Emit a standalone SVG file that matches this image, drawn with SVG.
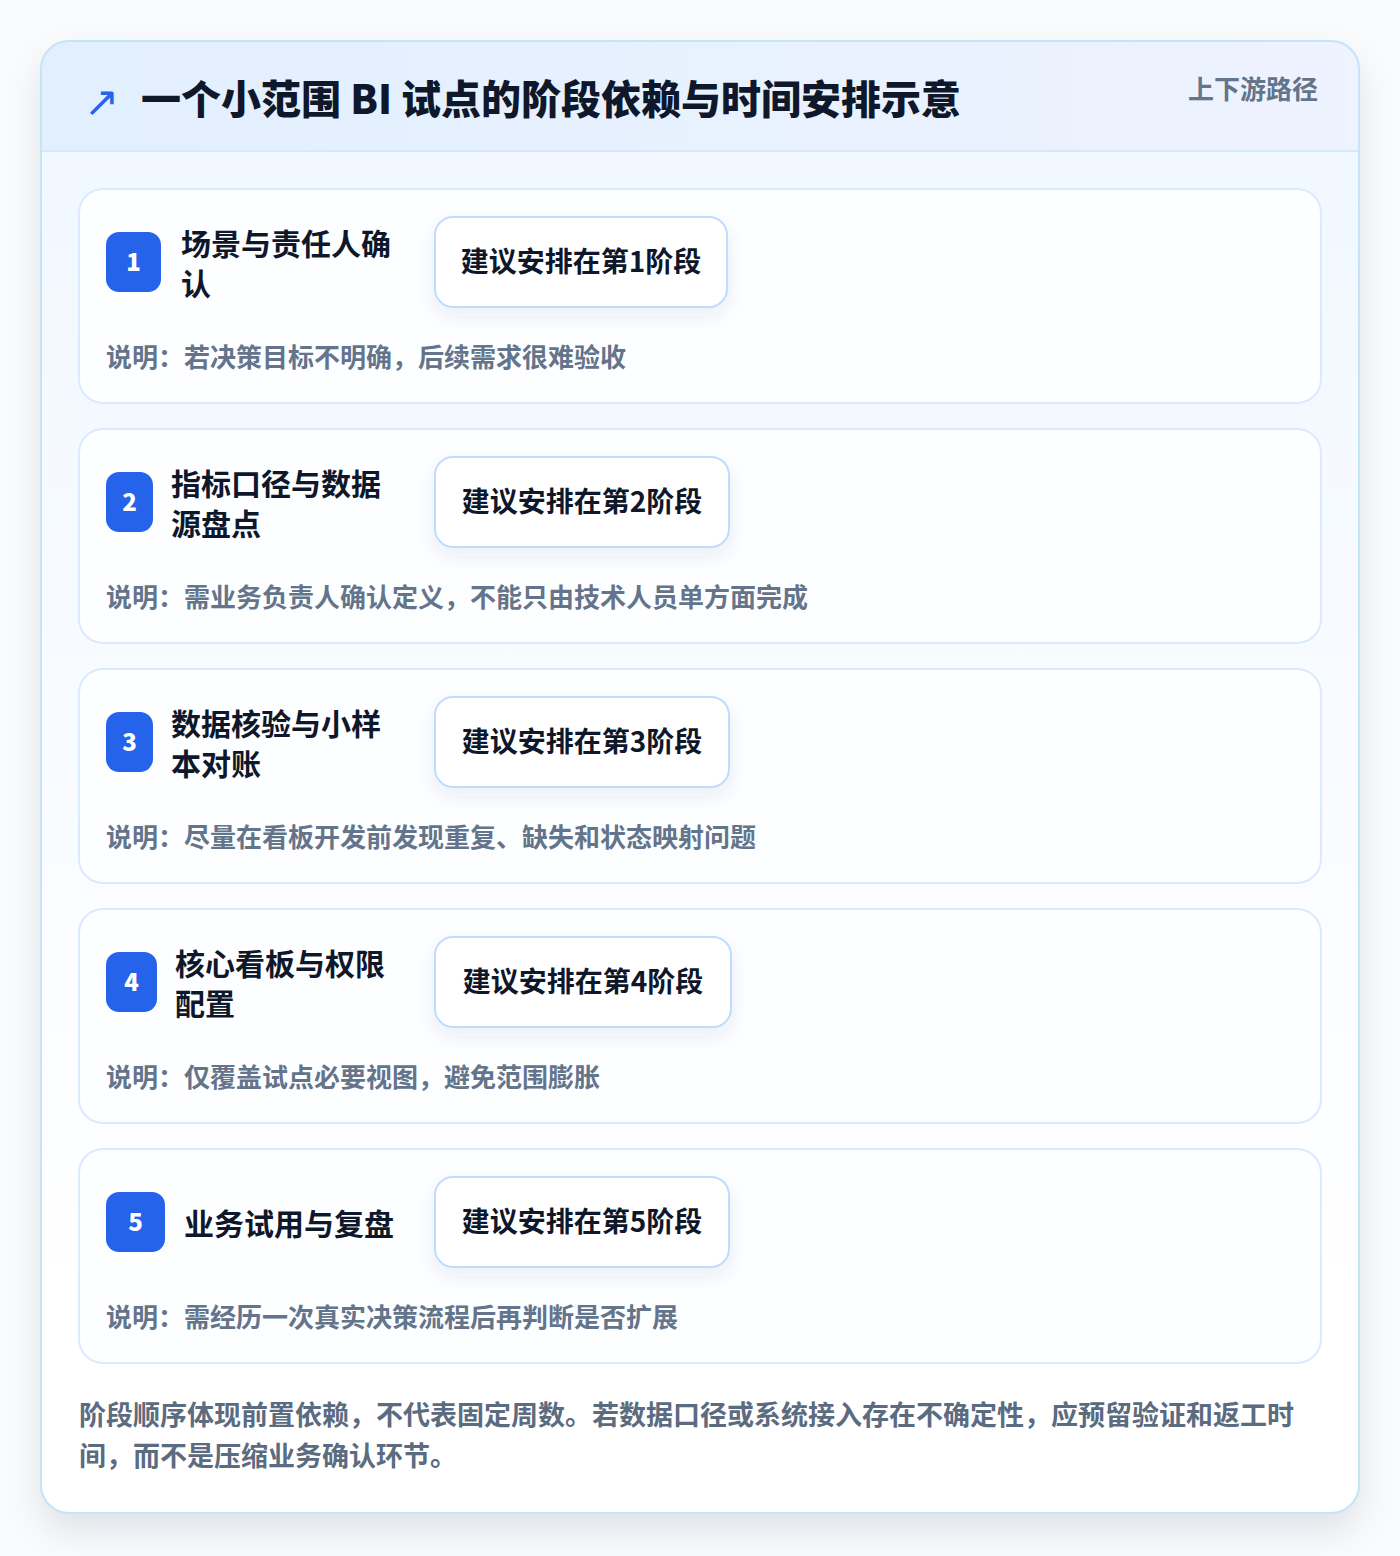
<svg xmlns="http://www.w3.org/2000/svg" width="1400" height="1556" viewBox="0 0 1400 1556">
<defs>
<linearGradient id="hdr" x1="0" y1="0" x2="1" y2="0"><stop offset="0" stop-color="#e2effe"/><stop offset="1" stop-color="#eef3fe"/></linearGradient>
<linearGradient id="body" x1="0" y1="0" x2="0" y2="1"><stop offset="0" stop-color="#f0f7ff"/><stop offset="0.85" stop-color="#ffffff"/><stop offset="1" stop-color="#ffffff"/></linearGradient>
<filter id="outerShadow" x="-10%" y="-10%" width="120%" height="120%"><feDropShadow dx="0" dy="18" stdDeviation="18" flood-color="#0f172a" flood-opacity="0.10"/></filter>
<filter id="pillShadow" x="-20%" y="-30%" width="140%" height="180%"><feDropShadow dx="0" dy="8" stdDeviation="9" flood-color="#1e3a8a" flood-opacity="0.08"/></filter>
<clipPath id="outerClip"><rect x="41" y="41" width="1318" height="1472" rx="28"/></clipPath>
</defs>
<style>
text{font-family:"Noto Sans CJK SC","Noto Sans",sans-serif;font-weight:700}
.card{fill:#fdfeff;stroke:#dbeafe;stroke-width:2}
.badge{fill:#2563eb}
.bnum{fill:#ffffff;font-size:24px;text-anchor:middle;font-weight:800}
.stitle{fill:#0f172a;font-size:30px}
.pill{fill:#ffffff;stroke:#bfdbfe;stroke-width:2}
.ptext{fill:#0f172a;font-size:28px;text-anchor:middle}
.desc{fill:#64748b;font-size:26px}
.foot{fill:#5b6b80;font-size:27px}
</style>
<rect x="0" y="0" width="1400" height="1556" fill="#fafbfc"/>
<g id="frame">
<rect x="41" y="41" width="1318" height="1472" rx="28" fill="#ffffff" filter="url(#outerShadow)"/>
<g clip-path="url(#outerClip)">
<rect x="41" y="41" width="1318" height="1472" fill="url(#body)"/>
<rect x="41" y="41" width="1318" height="110" fill="url(#hdr)"/>
<line x1="41" y1="151" x2="1359" y2="151" stroke="#d6e8fb" stroke-width="2"/>
</g>
<rect x="41" y="41" width="1318" height="1472" rx="28" fill="none" stroke="#c4e4f7" stroke-width="2"/>
</g>
<g id="header">
<text x="84" y="116" font-size="42" fill="#2563eb" style="font-family:'DejaVu Sans',sans-serif;font-weight:400">↗</text>
<text x="141" y="114" font-size="40" fill="#0f172a" style="font-weight:900">一个小范围 BI 试点的阶段依赖与时间安排示意</text>
<text x="1318" y="99" font-size="26" fill="#64748b" text-anchor="end">上下游路径</text>
</g>
<g id="stage1">
<rect class="card" x="79" y="189" width="1242" height="214" rx="24"/>
<rect class="badge" x="106" y="232" width="55" height="60" rx="13"/>
<text class="bnum" x="133.5" y="271">1</text>
<text class="stitle" x="181" y="255">场景与责任人确</text>
<text class="stitle" x="181" y="295">认</text>
<rect class="pill" x="435" y="217" width="292" height="90" rx="18" filter="url(#pillShadow)"/>
<text class="ptext" x="581" y="272">建议安排在第1阶段</text>
<text class="desc" x="106" y="367">说明：若决策目标不明确，后续需求很难验收</text>
</g>
<g id="stage2">
<rect class="card" x="79" y="429" width="1242" height="214" rx="24"/>
<rect class="badge" x="106" y="472" width="47" height="60" rx="13"/>
<text class="bnum" x="129.5" y="511">2</text>
<text class="stitle" x="171" y="495">指标口径与数据</text>
<text class="stitle" x="171" y="535">源盘点</text>
<rect class="pill" x="435" y="457" width="294" height="90" rx="18" filter="url(#pillShadow)"/>
<text class="ptext" x="582" y="512">建议安排在第2阶段</text>
<text class="desc" x="106" y="607">说明：需业务负责人确认定义，不能只由技术人员单方面完成</text>
</g>
<g id="stage3">
<rect class="card" x="79" y="669" width="1242" height="214" rx="24"/>
<rect class="badge" x="106" y="712" width="47" height="60" rx="13"/>
<text class="bnum" x="129.5" y="751">3</text>
<text class="stitle" x="171" y="735">数据核验与小样</text>
<text class="stitle" x="171" y="775">本对账</text>
<rect class="pill" x="435" y="697" width="294" height="90" rx="18" filter="url(#pillShadow)"/>
<text class="ptext" x="582" y="752">建议安排在第3阶段</text>
<text class="desc" x="106" y="847">说明：尽量在看板开发前发现重复、缺失和状态映射问题</text>
</g>
<g id="stage4">
<rect class="card" x="79" y="909" width="1242" height="214" rx="24"/>
<rect class="badge" x="106" y="952" width="51" height="60" rx="13"/>
<text class="bnum" x="131.5" y="991">4</text>
<text class="stitle" x="175" y="975">核心看板与权限</text>
<text class="stitle" x="175" y="1015">配置</text>
<rect class="pill" x="435" y="937" width="296" height="90" rx="18" filter="url(#pillShadow)"/>
<text class="ptext" x="583" y="992">建议安排在第4阶段</text>
<text class="desc" x="106" y="1087">说明：仅覆盖试点必要视图，避免范围膨胀</text>
</g>
<g id="stage5">
<rect class="card" x="79" y="1149" width="1242" height="214" rx="24"/>
<rect class="badge" x="106" y="1192" width="59" height="60" rx="13"/>
<text class="bnum" x="135.5" y="1231">5</text>
<text class="stitle" x="184" y="1235">业务试用与复盘</text>
<rect class="pill" x="435" y="1177" width="294" height="90" rx="18" filter="url(#pillShadow)"/>
<text class="ptext" x="582" y="1232">建议安排在第5阶段</text>
<text class="desc" x="106" y="1327">说明：需经历一次真实决策流程后再判断是否扩展</text>
</g>
<g id="connectors"></g>
<g id="footer">
<text class="foot" x="79" y="1425">阶段顺序体现前置依赖，不代表固定周数。若数据口径或系统接入存在不确定性，应预留验证和返工时</text>
<text class="foot" x="79" y="1466">间，而不是压缩业务确认环节。</text>
</g>
</svg>
